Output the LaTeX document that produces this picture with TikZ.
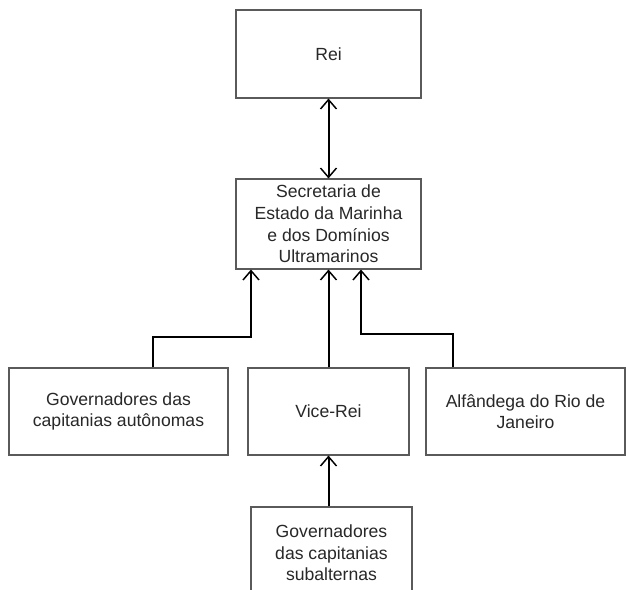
\documentclass[tikz,border=0pt]{standalone}
\usepackage{fontspec}
\setmainfont{Liberation Sans}
\usetikzlibrary{positioning}
\usetikzlibrary{calc}
\usetikzlibrary{arrows.meta}
\definecolor{boxline}{RGB}{90,90,90}
\definecolor{textgray}{RGB}{40,40,40}

\tikzset{
    orgbox/.style={draw=boxline, line width=0.8pt, align=center, inner sep=2pt,
                   text=textgray, font=\fontsize{13.2}{16.2}\selectfont},
    uparrow/.style={line width=1.5pt, -{Straight Barb[length=7pt, width=12pt, line width=1.1pt]}},
}

\begin{document}
\begin{tikzpicture}[x=0.75pt, y=-0.75pt]
    \clip (0,0) rectangle (626,590);
    \fill[white] (0,0) rectangle (626,590);

    % Top
    \node[orgbox, minimum width=185*0.75pt, minimum height=88*0.75pt] (rei) at (328.5, 54) {Rei};
    \node[orgbox, minimum width=185*0.75pt, minimum height=90*0.75pt] (sec) at (328.5, 224)
        {Secretaria de\\Estado da Marinha\\e dos Domínios\\Ultramarinos};

    % Middle row
    \node[orgbox, minimum width=219*0.75pt, minimum height=87*0.75pt] (gov) at (118.5, 411.5)
        {Governadores das\\capitanias autônomas};
    \node[orgbox, minimum width=161*0.75pt, minimum height=87*0.75pt] (vice) at (328.5, 411.5) {Vice-Rei};
    \node[orgbox, minimum width=199*0.75pt, minimum height=87*0.75pt] (alf) at (525.5, 411.5)
        {Alfândega do Rio de\\Janeiro};

    % Bottom
    \node[orgbox, minimum width=161*0.75pt, minimum height=92*0.75pt] (sub) at (331.5, 553)
        {Governadores\\das capitanias\\subalternas};

    % Arrows
    \draw[uparrow, {Straight Barb[length=7pt, width=12pt, line width=1.1pt]}-{Straight Barb[length=7pt, width=12pt, line width=1.1pt]}]
        (rei.south) -- (sec.north);
    \draw[uparrow] ($(gov.north)+(34.5,0)$) -- ++(0,-30) -| ($(sec.south)+(-77.5,0)$);
    \draw[uparrow] (vice.north) -- (sec.south);
    \draw[uparrow] ($(alf.north)+(-72.5,0)$) -- ++(0,-33) -| ($(sec.south)+(32.5,0)$);
    \draw[uparrow] (sub.north -| vice.south) -- (vice.south);
\end{tikzpicture}
\end{document}
